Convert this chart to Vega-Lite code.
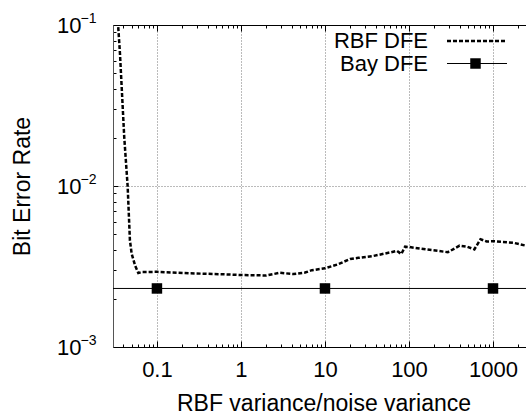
{
  "$schema": "https://vega.github.io/schema/vega-lite/v6.json",
  "width": 413,
  "height": 322,
  "autosize": "none",
  "padding": {"left": 113, "top": 25, "right": 0, "bottom": 72},
  "background": "white",
  "config": {
    "view": {"stroke": null},
    "font": "Liberation Sans"
  },
  "data": {
    "values": [
      {"series": "RBF DFE", "x": 0.033, "ber": 0.115},
      {"series": "RBF DFE", "x": 0.0345, "ber": 0.1},
      {"series": "RBF DFE", "x": 0.0363, "ber": 0.0667},
      {"series": "RBF DFE", "x": 0.0408, "ber": 0.0202},
      {"series": "RBF DFE", "x": 0.0448, "ber": 0.01},
      {"series": "RBF DFE", "x": 0.0477, "ber": 0.0046},
      {"series": "RBF DFE", "x": 0.05, "ber": 0.0038},
      {"series": "RBF DFE", "x": 0.055, "ber": 0.0032},
      {"series": "RBF DFE", "x": 0.06, "ber": 0.00288},
      {"series": "RBF DFE", "x": 0.066, "ber": 0.00292},
      {"series": "RBF DFE", "x": 0.1, "ber": 0.00293},
      {"series": "RBF DFE", "x": 0.24, "ber": 0.00287},
      {"series": "RBF DFE", "x": 0.6, "ber": 0.00283},
      {"series": "RBF DFE", "x": 1.0, "ber": 0.0028},
      {"series": "RBF DFE", "x": 1.5, "ber": 0.00279},
      {"series": "RBF DFE", "x": 2.0, "ber": 0.00278},
      {"series": "RBF DFE", "x": 2.9, "ber": 0.00289},
      {"series": "RBF DFE", "x": 4.2, "ber": 0.00284},
      {"series": "RBF DFE", "x": 5.8, "ber": 0.0029},
      {"series": "RBF DFE", "x": 7.0, "ber": 0.003},
      {"series": "RBF DFE", "x": 10, "ber": 0.00308},
      {"series": "RBF DFE", "x": 14, "ber": 0.00325},
      {"series": "RBF DFE", "x": 20, "ber": 0.00352},
      {"series": "RBF DFE", "x": 25, "ber": 0.00358},
      {"series": "RBF DFE", "x": 38, "ber": 0.00368},
      {"series": "RBF DFE", "x": 60, "ber": 0.00387},
      {"series": "RBF DFE", "x": 72, "ber": 0.00395},
      {"series": "RBF DFE", "x": 81, "ber": 0.00378},
      {"series": "RBF DFE", "x": 90, "ber": 0.0042},
      {"series": "RBF DFE", "x": 100, "ber": 0.00418},
      {"series": "RBF DFE", "x": 160, "ber": 0.00404},
      {"series": "RBF DFE", "x": 290, "ber": 0.00388},
      {"series": "RBF DFE", "x": 400, "ber": 0.00426},
      {"series": "RBF DFE", "x": 490, "ber": 0.0042},
      {"series": "RBF DFE", "x": 600, "ber": 0.00404},
      {"series": "RBF DFE", "x": 710, "ber": 0.00467},
      {"series": "RBF DFE", "x": 840, "ber": 0.00452},
      {"series": "RBF DFE", "x": 1000, "ber": 0.00454},
      {"series": "RBF DFE", "x": 1750, "ber": 0.00444},
      {"series": "RBF DFE", "x": 2470, "ber": 0.00426},
      {"series": "Bay DFE", "x": 0.03, "ber": 0.00231},
      {"series": "Bay DFE", "x": 0.1, "ber": 0.00231},
      {"series": "Bay DFE", "x": 10, "ber": 0.00231},
      {"series": "Bay DFE", "x": 1000, "ber": 0.00231},
      {"series": "Bay DFE", "x": 2470, "ber": 0.00231}
    ]
  },
  "layer": [
    {
      "mark": {"type": "line", "clip": true, "color": "black"},
      "encoding": {
        "x": {
          "field": "x", "type": "quantitative",
          "scale": {"type": "log", "domain": [0.03, 2470], "nice": false},
          "axis": {
            "orient": "bottom",
            "values": [0.03,0.04,0.05,0.06,0.07,0.08,0.09,0.1,0.2,0.3,0.4,0.5,0.6,0.7,0.8,0.9,1,2,3,4,5,6,7,8,9,10,20,30,40,50,60,70,80,90,100,200,300,400,500,600,700,800,900,1000,2000],
            "title": "RBF variance/noise variance",
            "titleFontSize": 23, "titleFontWeight": "normal", "titleColor": "black", "titlePadding": 9,
            "titleX": 210.5,
            "labelFontSize": 22, "labelColor": "black", "labelPadding": 18, "labelFlush": false, "labelOverlap": false,
            "labelExpr": "indexof([0.1,1,10,100,1000], datum.value) >= 0 ? '' + datum.value : ''",
            "tickSize": {"condition": {"test": "indexof([0.1,1,10,100,1000], datum.value) >= 0", "value": -6}, "value": -3},
            "tickColor": "black",
            "grid": true, "gridDash": [1, 2], "gridColor": "#777",
            "gridOpacity": {"condition": {"test": "indexof([0.1,1,10,100,1000], datum.value) >= 0", "value": 1}, "value": 0},
            "domainColor": "black"
          }
        },
        "y": {
          "field": "ber", "type": "quantitative",
          "scale": {"type": "log", "domain": [0.001, 0.1], "nice": false},
          "axis": {
            "orient": "left",
            "values": [0.001,0.002,0.003,0.004,0.005,0.006,0.007,0.008,0.009,0.01,0.02,0.03,0.04,0.05,0.06,0.07,0.08,0.09,0.1],
            "title": "Bit Error Rate",
            "titleFontSize": 23, "titleFontWeight": "normal", "titleColor": "black", "titlePadding": 22,
            "labelFontSize": 22, "labelColor": "black", "labelPadding": 37, "labelOverlap": false, "labelFlush": false,
            "labelExpr": "indexof([0.001,0.01,0.1], datum.value) >= 0 ? '10' : ''",
            "tickSize": {"condition": {"test": "indexof([0.001,0.01,0.1], datum.value) >= 0", "value": -5}, "value": -3},
            "tickColor": "black",
            "grid": true, "gridDash": [1, 2], "gridColor": "#777",
            "gridOpacity": {"condition": {"test": "datum.value == 0.01", "value": 1}, "value": 0},
            "domainColor": "#555"
          }
        },
        "strokeDash": {
          "field": "series", "type": "nominal",
          "scale": {"domain": ["RBF DFE", "Bay DFE"], "range": [[4, 2], [1, 0]]},
          "legend": {
            "orient": "none", "legendX": 352.5, "legendY": 4.5,
            "title": null, "padding": 0,
            "symbolType": "M-3,0H3", "symbolSize": 400, "symbolStrokeColor": "black",
            "labelFontSize": 22, "labelColor": "black", "rowPadding": -3,
            "encode": {
              "labels": {"update": {"x": {"value": -37.5}, "align": {"value": "right"}}},
              "symbols": {"update": {"strokeWidth": {"signal": "datum.value == 'RBF DFE' ? 2 : 1"}}}
            }
          }
        },
        "strokeWidth": {
          "field": "series", "type": "nominal",
          "scale": {"domain": ["RBF DFE", "Bay DFE"], "range": [2.5, 1]},
          "legend": null
        }
      }
    },
    {
      "transform": [{"filter": {"field": "series", "equal": "Bay DFE"}}, {"filter": {"field": "x", "oneOf": [0.1, 10, 1000]}}],
      "mark": {"type": "point", "filled": true, "size": 110, "color": "black", "opacity": 1},
      "encoding": {
        "x": {
          "field": "x", "type": "quantitative",
          "axis": {
            "orient": "top",
            "values": [0.03,0.04,0.05,0.06,0.07,0.08,0.09,0.1,0.2,0.3,0.4,0.5,0.6,0.7,0.8,0.9,1,2,3,4,5,6,7,8,9,10,20,30,40,50,60,70,80,90,100,200,300,400,500,600,700,800,900,1000,2000],
            "title": null, "labels": false, "grid": false,
            "tickSize": {"condition": {"test": "indexof([0.1,1,10,100,1000], datum.value) >= 0", "value": -6}, "value": -3},
            "tickColor": "black", "domainColor": "black"
          }
        },
        "y": {
          "field": "ber", "type": "quantitative",
          "axis": {
            "orient": "left",
            "values": [0.001, 0.01, 0.1],
            "title": null, "grid": false, "ticks": false, "domain": false,
            "labelFontSize": 14, "labelColor": "black", "labelPadding": 33, "labelAlign": "left", "labelOffset": -7,
            "labelOverlap": false, "labelFlush": false,
            "labelExpr": "datum.value == 0.1 ? '−1' : datum.value == 0.01 ? '−2' : '−3'"
          }
        },
        "shape": {
          "field": "series", "type": "nominal",
          "scale": {"range": ["square"]},
          "legend": {
            "orient": "none", "legendX": 352, "legendY": 28,
            "title": null, "padding": 0,
            "symbolSize": 110, "symbolFillColor": "black", "symbolStrokeColor": "black", "symbolOpacity": 1,
            "labelFontSize": 21, "labelExpr": "''"
          }
        }
      }
    }
  ],
  "resolve": {"axis": {"x": "independent", "y": "independent"}}
}
